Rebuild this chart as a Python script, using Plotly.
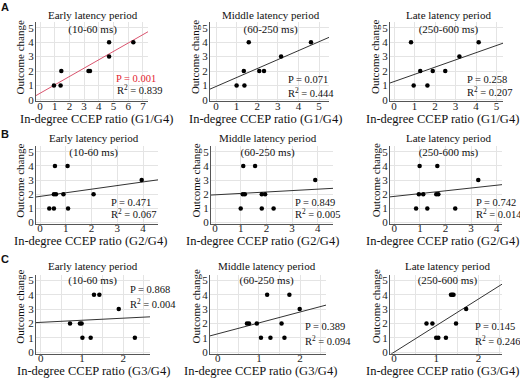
import plotly.graph_objects as go

W, H = 520, 379

# ---------------- data ----------------
a1_x = [0.95, 1.4, 1.45, 3.3, 3.4, 4.7, 4.7, 6.35]
a1_y = [1, 1, 2, 2, 2, 3, 4, 4]
a2_x = [1.0, 1.38, 1.35, 1.59, 2.1, 2.33, 3.16, 4.61]
a2_y = [1, 1, 2, 4, 2, 2, 3, 4]
a3_x = [0.83, 0.96, 1.28, 1.63, 1.89, 2.5, 3.19, 4.13]
a3_y = [4, 1, 2, 1, 2, 2, 3, 4]

b1_x = [0.36, 0.54, 0.58, 0.54, 0.62, 0.91, 1.07, 1.09, 2.08, 3.95]
b1_y = [1, 1, 4, 2, 2, 2, 4, 1, 2, 3]
b2_x = [1.0, 1.1, 1.08, 1.16, 1.56, 1.82, 1.95, 1.82, 2.28, 3.9]
b2_y = [1, 4, 2, 2, 4, 2, 2, 1, 1, 3]
b3_x = [0.85, 0.99, 0.96, 1.13, 1.29, 1.68, 1.64, 1.72, 2.38, 3.28]
b3_y = [1, 4, 2, 2, 1, 4, 2, 2, 1, 3]

c1_x = [0.71, 0.95, 0.99, 1.01, 1.21, 1.29, 1.42, 1.89, 2.28]
c1_y = [2, 2, 2, 1, 1, 4, 4, 3, 1]
c2_x = [0.71, 0.76, 0.95, 1.05, 1.2, 1.28, 1.55, 1.62, 1.74, 1.99]
c2_y = [2, 2, 2, 1, 4, 1, 2, 1, 4, 3]
c3_x = [0.77, 0.91, 1.0, 1.05, 1.23, 1.35, 1.38, 1.41, 1.47, 1.71]
c3_y = [2, 2, 1, 1, 1, 4, 4, 4, 2, 3]

fit_intercepts = [0.46, 0.93, 1.27, 1.85, 1.96, 1.85, 2.08, 1.28, 0.0]
fit_slopes = [0.58, 0.62, 0.50, 0.255, 0.10, 0.197, 0.145, 0.76, 1.85]

p_labels = ["P = 0.001", "P = 0.071", "P = 0.258",
            "P = 0.471", "P = 0.849", "P = 0.742",
            "P = 0.868", "P = 0.389", "P = 0.145"]
r2_labels = ["0.839", "0.444", "0.207",
             "0.067", "0.005", "0.014",
             "0.004", "0.094", "0.246"]

period_titles = ["Early latency period<br>(10-60 ms)",
                 "Middle latency period<br>(60-250 ms)",
                 "Late latency period<br>(250-600 ms)"]
x_titles = ["In-degree CCEP ratio (G1/G4)",
            "In-degree CCEP ratio (G2/G4)",
            "In-degree CCEP ratio (G3/G4)"]
y_title = "Outcome change"
row_letters = ["A", "B", "C"]

xs = [a1_x, a2_x, a3_x, b1_x, b2_x, b3_x, c1_x, c2_x, c3_x]
ys = [a1_y, a2_y, a3_y, b1_y, b2_y, b3_y, c1_y, c2_y, c3_y]

x_tick_max = [7, 5, 5, 4, 4, 4, 2, 2, 2]

# ---------------- layout geometry (pixels) ----------------
col_geom = [(36, 148, 40, 14.7), (210, 329, 216, 20.6), (390, 503, 394, 20.5),
            (36, 158, 40, 25.75), (211, 333, 215, 25.7), (390, 502, 394.3, 25.6),
            (36, 150, 40.7, 41.3), (210, 326, 217.7, 41.2), (390, 502, 394, 42.2)]
row_geom = [(101, 14.6), (225, 14.33), (356, 14.53)]
Y_LO, Y_HI = -0.1, 5.4

title_cx = [93, 271, 448, 94, 268, 448, 93, 267, 447]
title_cy = [22.5, 146.7, 276.5]
xt_cx = [96, 265, 442.5, 90, 262, 442, 93, 260, 442]
xt_cy = [120, 244, 375]
yt_cx = [20, 195.7, 375.5]
yt_cy = [58, 182.8, 310]
p_pos = [(114, 79), (285.5, 80), (465, 80),
         (109.3, 204.3), (293.3, 204.3), (474.3, 205),
         (128.3, 292.7), (302.7, 330), (472.7, 330)]
r_pos = [(115, 90), (285.5, 93), (465, 92.7),
         (109.3, 215.7), (293.3, 215.7), (474.3, 215.7),
         (128.3, 306.7), (302.7, 344), (472.7, 344)]
letter_pos = [(5, 7), (5, 135), (5, 262)]

FONT = "Liberation Serif"
RED_LINE = "#d9546e"
RED_TEXT = "#e3232f"


def px(v):
    return v / W


def py(v):
    return 1 - v / H


fig = go.Figure()
layout = dict(width=W, height=H, margin=dict(l=0, r=0, t=0, b=0),
              paper_bgcolor="white", plot_bgcolor="white",
              showlegend=False, font=dict(family=FONT, size=11, color="#111"))
annotations = []

for i in range(9):
    r, c = divmod(i, 3)
    n = i + 1
    xa = "x" if n == 1 else f"x{n}"
    ya = "y" if n == 1 else f"y{n}"
    left, right, x0, ppu = col_geom[i]
    y0, yppu = row_geom[r]
    top = y0 - Y_HI * yppu
    bottom = y0 - Y_LO * yppu

    red = (i == 0)
    fig.add_trace(go.Scatter(
        x=[-2, 10],
        y=[fit_intercepts[i] + fit_slopes[i] * (-2), fit_intercepts[i] + fit_slopes[i] * 10],
        mode="lines", line=dict(color=RED_LINE if red else "#333", width=1),
        xaxis=xa, yaxis=ya, hoverinfo="skip"))
    fig.add_trace(go.Scatter(
        x=xs[i], y=ys[i], mode="markers",
        marker=dict(color="black", size=4.5),
        xaxis=xa, yaxis=ya))

    xdict = dict(domain=[px(left), px(right)],
                 range=[(left - x0) / ppu, (right - x0) / ppu],
                 anchor=ya, tickmode="array",
                 tickvals=list(range(0, x_tick_max[i] + 1)),
                 showline=True, linecolor="#555", linewidth=1,
                 showgrid=True, gridcolor="#e4e4e4", gridwidth=1,
                 zeroline=False, ticks="", ticklabelstandoff=-6,
                 tickfont=dict(family=FONT, size=11, color="#222"))
    if r == 2:
        xdict["minor"] = dict(dtick=0.5, showgrid=True, gridcolor="#e4e4e4", gridwidth=1)
    layout["xaxis" if n == 1 else f"xaxis{n}"] = xdict
    layout["yaxis" if n == 1 else f"yaxis{n}"] = dict(
        domain=[py(bottom), py(top)], range=[Y_LO, Y_HI], anchor=xa,
        tickmode="array", tickvals=[0, 1, 2, 3, 4, 5],
        showline=True, linecolor="#555", linewidth=1,
        showgrid=True, gridcolor="#e4e4e4", gridwidth=1,
        zeroline=False, ticks="", ticklabelstandoff=-1,
        tickfont=dict(family=FONT, size=11, color="#222"))

    annotations.append(dict(text=period_titles[c], x=px(title_cx[i]), y=py(title_cy[r]),
                            xref="paper", yref="paper", showarrow=False,
                            xanchor="center", yanchor="middle",
                            font=dict(family=FONT, size=11, color="#111")))
    annotations.append(dict(text=x_titles[r], x=px(xt_cx[i]), y=py(xt_cy[r]),
                            xref="paper", yref="paper", showarrow=False,
                            xanchor="center", yanchor="middle",
                            font=dict(family=FONT, size=12.5, color="#111")))
    annotations.append(dict(text=y_title, x=px(yt_cx[c]), y=py(yt_cy[r]),
                            xref="paper", yref="paper", showarrow=False, textangle=-90,
                            xanchor="center", yanchor="middle",
                            font=dict(family=FONT, size=11, color="#111")))
    annotations.append(dict(text=p_labels[i], x=px(p_pos[i][0]), y=py(p_pos[i][1]),
                            xref="paper", yref="paper", showarrow=False,
                            xanchor="left", yanchor="middle",
                            font=dict(family=FONT, size=10.5,
                                      color=RED_TEXT if red else "#111")))
    annotations.append(dict(text="R<sup>2</sup> = " + r2_labels[i],
                            x=px(r_pos[i][0]), y=py(r_pos[i][1]),
                            xref="paper", yref="paper", showarrow=False,
                            xanchor="left", yanchor="middle",
                            font=dict(family=FONT, size=10.5, color="#111")))

for k, letter in enumerate(row_letters):
    annotations.append(dict(text="<b>" + letter + "</b>", x=px(letter_pos[k][0]),
                            y=py(letter_pos[k][1]), xref="paper", yref="paper",
                            showarrow=False, xanchor="center", yanchor="middle",
                            font=dict(family="Liberation Sans", size=11, color="#111")))

layout["annotations"] = annotations
fig.update_layout(**layout)
fig.write_html("out.html", config={"displayModeBar": False},
               post_script="document.body.style.margin='0';document.body.style.padding='0';")
